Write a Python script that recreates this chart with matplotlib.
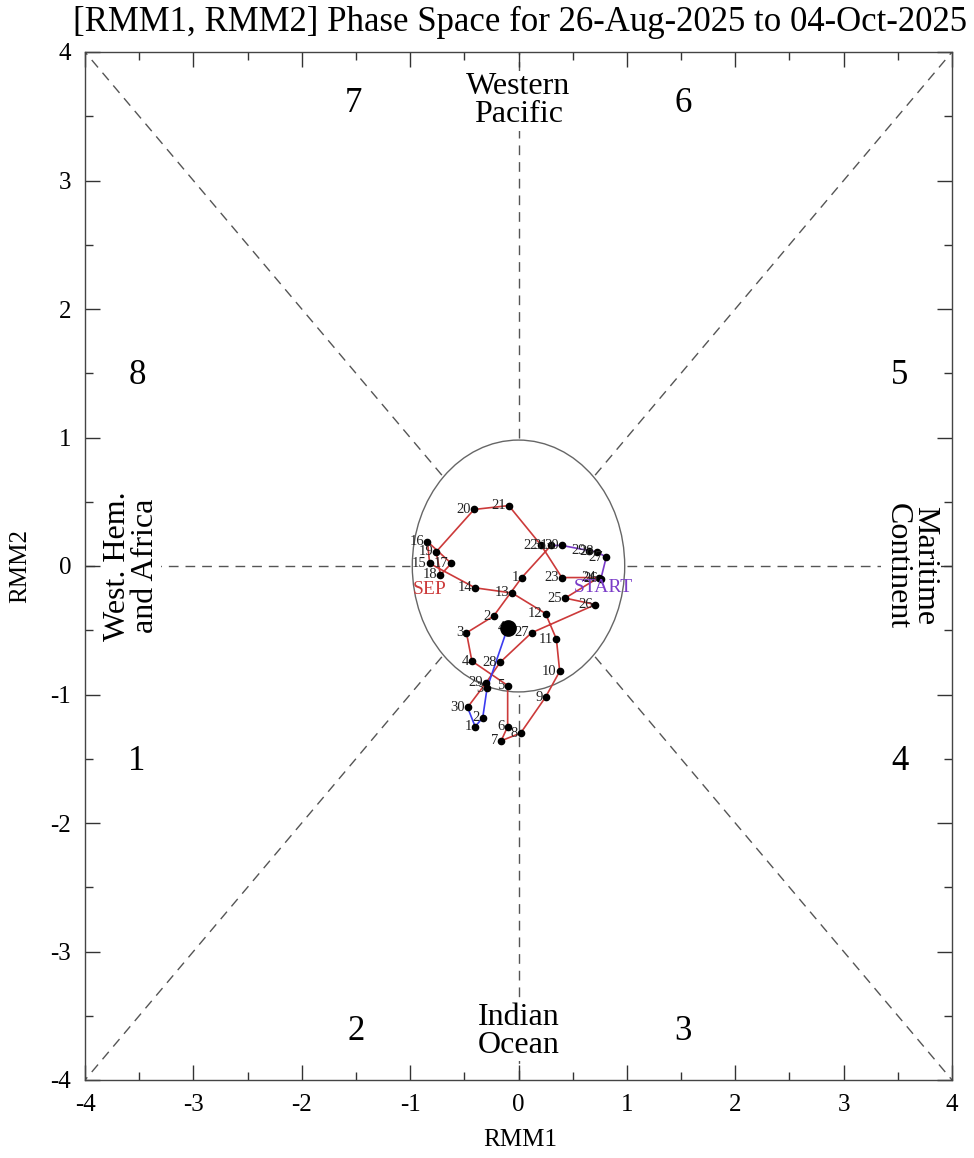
import numpy as np
import matplotlib
matplotlib.use("Agg")
import matplotlib.pyplot as plt
from matplotlib.patches import Circle
from matplotlib.ticker import MultipleLocator, FuncFormatter

# ---------------- data (RMM1, RMM2 daily values) ----------------
aug_days = [26, 27, 28, 29, 30, 31]
aug_rmm1 = [0.76, 0.81, 0.72, 0.65, 0.40, 0.30]
aug_rmm2 = [-0.10, 0.07, 0.11, 0.12, 0.16, 0.16]

sep_days = list(range(1, 31))
sep_rmm1 = [0.03, -0.23, -0.48, -0.43, -0.10, -0.10, -0.16, 0.02, 0.25, 0.38,
            0.35, 0.25, -0.06, -0.40, -0.82, -0.84, -0.62, -0.72, -0.76, -0.41,
            -0.09, 0.21, 0.40, 0.74, 0.43, 0.71, 0.12, -0.17, -0.30, -0.47]
sep_rmm2 = [-0.09, -0.39, -0.52, -0.74, -0.93, -1.25, -1.36, -1.30, -1.02, -0.82,
            -0.57, -0.37, -0.21, -0.17, 0.02, 0.19, 0.02, -0.07, 0.11, 0.44,
            0.47, 0.16, -0.09, -0.09, -0.25, -0.30, -0.52, -0.75, -0.91, -1.10]

oct_days = [1, 2, 3, 4]
oct_rmm1 = [-0.40, -0.33, -0.29, -0.10]
oct_rmm2 = [-1.25, -1.18, -0.95, -0.48]

month_colors = {"Aug": "#7a3cc8", "Sep": "#cc3a3a", "Oct": "#3b3bf0"}

phase_numbers = ["1", "2", "3", "4", "5", "6", "7", "8"]
phase_x = [-3.52, -1.50, 1.52, 3.52, 3.52, 1.52, -1.52, -3.52]
phase_y = [-1.52, -3.62, -3.62, -1.52, 1.48, 3.60, 3.60, 1.48]

title = "[RMM1, RMM2] Phase Space for 26-Aug-2025 to 04-Oct-2025"

# ---------------- figure ----------------
plt.rcParams['font.family'] = ['Liberation Serif', 'DejaVu Serif']
W, H = 974, 1158
fig = plt.figure(figsize=(W / 100, H / 100), dpi=100)
ax = fig.add_axes([85 / W, 1 - 1080 / H, (952 - 85) / W, (1080 - 52) / H])
ax.set_xlim(-4, 4)
ax.set_ylim(-4, 4)

dash_kw = dict(color="#555555", lw=1.0, dashes=(7, 5), zorder=1)
r = 1.0
d = r / np.sqrt(2)
ax.plot([-4, -r], [0, 0], **dash_kw)
ax.plot([r, 4], [0, 0], **dash_kw)
ax.plot([0, 0], [r, 4], **dash_kw)
ax.plot([0, 0], [-4, -r], **dash_kw)
for sx in (-1, 1):
    for sy in (-1, 1):
        ax.plot([sx * d, sx * 4], [sy * d, sy * 4], **dash_kw)

ax.add_patch(Circle((0, 0), 0.98, fill=False, edgecolor="#666666", lw=1.0, zorder=2))

for lab, px, py in zip(phase_numbers, phase_x, phase_y):
    ax.text(px, py, lab, fontsize=25, ha="center", va="center", zorder=3)

bbox = dict(facecolor="white", edgecolor="none", pad=1.0)
rkw = dict(fontsize=23, ha="center", va="center", linespacing=0.95, bbox=bbox, zorder=3)
ax.text(0, 3.62, "Western\nPacific", **rkw)
ax.text(0, -3.62, "Indian\nOcean", **rkw)
ax.text(-3.57, 0, "West. Hem.\nand Africa", rotation=90, **rkw)
ax.text(3.62, 0, "Maritime\nContinent", rotation=-90, **rkw)

# trajectory
months = [("Aug", aug_days, aug_rmm1, aug_rmm2),
          ("Sep", sep_days, sep_rmm1, sep_rmm2),
          ("Oct", oct_days, oct_rmm1, oct_rmm2)]
prev = None
for name, days, x, y in months:
    xs = list(x)
    ys = list(y)
    if prev is not None:
        xs = [prev[0]] + xs
        ys = [prev[1]] + ys
    ax.plot(xs, ys, color=month_colors[name], lw=1.2, zorder=4)
    prev = (x[-1], y[-1])

for name, days, x, y in months:
    ax.plot(x, y, "o", color="black", ms=4.5, zorder=5)
    for dd, xx, yy in zip(days, x, y):
        ax.annotate(str(dd), (xx, yy), xytext=(-3, 0), textcoords="offset pixels",
                    ha="right", va="center", fontsize=10.5, color="#222222", zorder=6)

ax.plot([oct_rmm1[-1]], [oct_rmm2[-1]], "o", color="black", ms=11, zorder=7)

ax.annotate("START", (aug_rmm1[0], aug_rmm2[0]), xytext=(2, -9), textcoords="offset pixels",
            ha="center", va="center", fontsize=14, color=month_colors["Aug"], zorder=6)
ax.annotate("SEP", (sep_rmm1[14], sep_rmm2[14]), xytext=(0, -26), textcoords="offset pixels",
            ha="center", va="center", fontsize=14, color=month_colors["Sep"], zorder=6)

# axes styling
ax.xaxis.set_major_locator(MultipleLocator(1))
ax.yaxis.set_major_locator(MultipleLocator(1))
ax.xaxis.set_minor_locator(MultipleLocator(0.5))
ax.yaxis.set_minor_locator(MultipleLocator(0.5))
fmt = FuncFormatter(lambda v, p: "%d" % round(v))
ax.xaxis.set_major_formatter(fmt)
ax.yaxis.set_major_formatter(fmt)
ax.tick_params(which="both", direction="in", top=True, right=True, colors="#333333",
               labelcolor="black", labelsize=18)
ax.tick_params(which="major", length=11, width=1.0, pad=10)
ax.tick_params(which="minor", length=6, width=1.0)
for s in ax.spines.values():
    s.set_color("#444444")
    s.set_linewidth(1.0)

fig.text(520 / W, 1 - 1140 / H, "RMM1", fontsize=18, ha="center", va="center")
fig.text(20 / W, 1 - 566 / H, "RMM2", fontsize=18, ha="center", va="center", rotation=90)
fig.text(520 / W, 1 - 22 / H, title, fontsize=25, ha="center", va="center")

fig.savefig("out.png", dpi=100)
